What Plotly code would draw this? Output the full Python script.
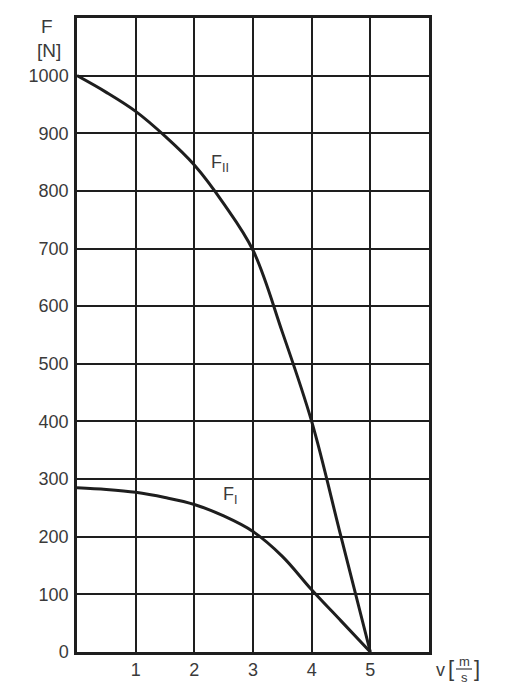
import plotly.graph_objects as go

# Data
v_II = [0, 0.5, 1, 1.5, 2, 2.5, 3, 3.5, 4, 4.5, 5]
F_II = [1000, 971, 938, 895, 845, 778, 697, 555, 400, 200, 0]

v_I = [0, 0.5, 1, 1.5, 2, 2.5, 3, 3.5, 4, 4.5, 5]
F_I = [285, 282, 277, 268, 256, 236, 209, 166, 108, 54, 0]

x_ticks = [1, 2, 3, 4, 5]
y_ticks = [0, 100, 200, 300, 400, 500, 600, 700, 800, 900, 1000]

LINE = "#1e1e1e"
TEXT = "#3a3a3a"
FONT = "Liberation Sans, Arial, sans-serif"

fig = go.Figure()
fig.add_trace(go.Scatter(x=v_II, y=F_II, mode="lines",
                         line=dict(color=LINE, width=3, shape="spline", smoothing=1),
                         showlegend=False, hoverinfo="skip"))
fig.add_trace(go.Scatter(x=v_I, y=F_I, mode="lines",
                         line=dict(color=LINE, width=3, shape="spline", smoothing=1),
                         showlegend=False, hoverinfo="skip"))

W, H = 505, 700
L, R, T, B = 77, 76, 18, 48
pw, ph = W - L - R, H - T - B

def px(x):
    return (x - L) / pw

def py(y):
    return (H - B - y) / ph

def txt(x, y, s, size, ref="paper"):
    if ref == "paper":
        x, y = px(x), py(y)
    return dict(x=x, y=y, xref=ref if ref == "paper" else "x",
                yref=ref if ref == "paper" else "y", text=s, showarrow=False,
                xanchor="center", yanchor="middle",
                font=dict(size=size, color=TEXT, family=FONT))

ann = [
    txt(2.44, 847, "F<sub>II</sub>", 18, ref="data"),
    txt(2.62, 271, "F<sub>I</sub>", 18, ref="data"),
    txt(47, 26, "F", 19),
    txt(49, 50, "[N]", 19),
    txt(440, 670, "v", 18),
    txt(451, 668, "[", 22),
    txt(477, 668, "]", 22),
    txt(464, 661, "m", 13),
    txt(464, 677, "s", 13),
]

shapes = [dict(type="line", xref="paper", yref="paper",
               x0=px(456), x1=px(472), y0=py(669), y1=py(669),
               line=dict(color=TEXT, width=1.2))]

fig.update_layout(
    width=W, height=H,
    margin=dict(l=L, r=R, t=T, b=B, pad=0),
    paper_bgcolor="white", plot_bgcolor="white",
    font=dict(family=FONT, size=18, color=TEXT),
    annotations=ann, shapes=shapes,
    xaxis=dict(range=[0, 6], tickvals=x_ticks, ticktext=[str(t) for t in x_ticks],
               showgrid=True, gridcolor=LINE, gridwidth=2,
               showline=True, linecolor=LINE, linewidth=2.5, mirror=True,
               zeroline=False, ticks="", ticklabelstandoff=0,
               tickfont=dict(size=18, color=TEXT, family=FONT)),
    yaxis=dict(range=[0, 1100], tickvals=y_ticks, ticktext=[str(t) for t in y_ticks],
               showgrid=True, gridcolor=LINE, gridwidth=2,
               showline=True, linecolor=LINE, linewidth=2.5, mirror=True,
               zeroline=False, ticks="", ticklabelstandoff=2,
               tickfont=dict(size=18, color=TEXT, family=FONT)),
)

fig.write_html("out.html")
